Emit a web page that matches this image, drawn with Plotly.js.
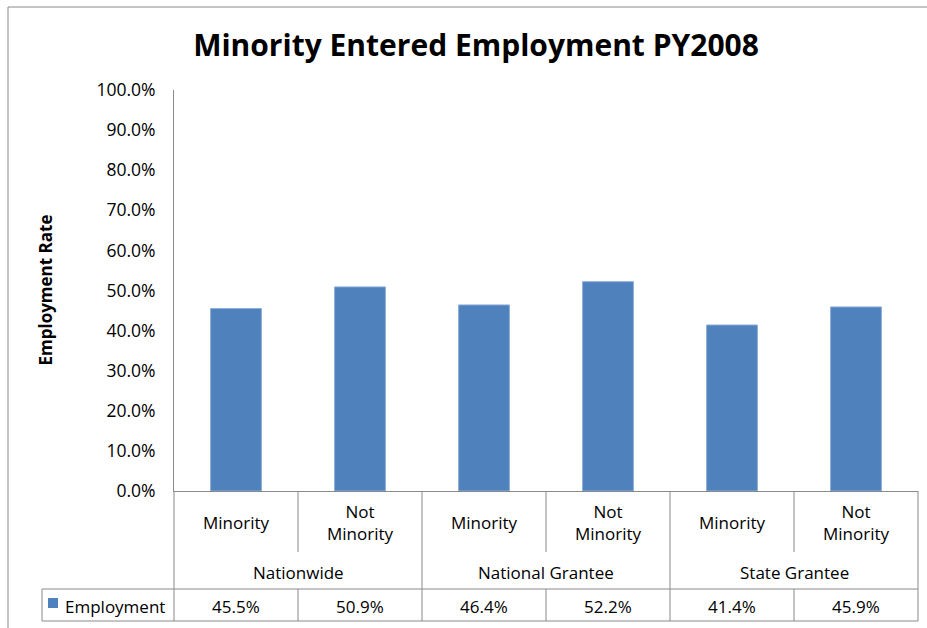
<!DOCTYPE html>
<html>
<head>
<meta charset="utf-8">
<script src="https://cdn.plot.ly/plotly-3.0.1.min.js"></script>
<style>html,body{margin:0;padding:0;background:#fff;}#chart{width:927px;height:628px;}</style>
</head>
<body>
<div id="chart"></div>
<script>
// ---- data ----
const groups = ['Nationwide', 'National Grantee', 'State Grantee'];
const subCategories = ['Minority', 'Not<br>Minority', 'Minority', 'Not<br>Minority', 'Minority', 'Not<br>Minority'];
const employment = [0.455, 0.509, 0.464, 0.522, 0.414, 0.459];
const seriesName = 'Employment';
const chartTitle = 'Minority Entered Employment PY2008';
const yTitle = 'Employment Rate';

// ---- layout helpers ----
const W = 927, H = 628;
const L = 174, R = 9, T = 90, B = 137;
const pw = W - L - R, ph = H - T - B;
const px2x = p => (p - L) / pw;          // pixel -> paper x
const px2y = p => (H - B - p) / ph;      // pixel -> paper y
const FONT = '"Open Sans", Carlito, Calibri, sans-serif';
const lineCol = '#8a8a8a';
const n = employment.length;
const perGroup = n / groups.length;

const idx = employment.map((_, i) => i);
const trace = {
  type: 'bar', x: idx, y: employment, width: 0.41, name: seriesName,
  marker: {color: '#4F81BD', line: {color: '#8CAEDA', width: 1}},
  hoverinfo: 'skip'
};

const shapes = [];
const line = (x0, y0, x1, y1) => shapes.push({type: 'line', xref: 'paper', yref: 'paper', x0, y0, x1, y1, line: {color: lineCol, width: 1}});

const yRow1 = px2y(552), yRow2 = px2y(589), yRow3 = px2y(621), yTop = 0;
const xLeft = px2x(42);
for (let i = 0; i <= n; i++) {
  const xb = i / n;
  if (i % perGroup === 0) line(xb, yTop, xb, yRow2); else line(xb, yTop, xb, yRow1);
  line(xb, yRow2, xb, yRow3);
}
line(xLeft, yRow2, xLeft, yRow3);
line(xLeft, yRow2, 1, yRow2);
line(xLeft, yRow3, 1, yRow3);
// outer frame
line(px2x(8), px2y(7), px2x(8), -0.6);
line(px2x(8), px2y(7), 1.2, px2y(7));
// legend key square
shapes.push({type: 'rect', xref: 'paper', yref: 'paper', x0: px2x(48), x1: px2x(58), y0: px2y(598), y1: px2y(608),
  fillcolor: '#4F81BD', line: {width: 0}});

const annotations = [];
const tf = {family: FONT, size: 17, color: '#000'};
subCategories.forEach((s, i) => annotations.push({xref: 'x', yref: 'paper', x: i, y: px2y(522), text: s, showarrow: false, font: tf, yanchor: 'middle', align: 'center'}));
groups.forEach((g, j) => annotations.push({xref: 'x', yref: 'paper', x: j * perGroup + (perGroup - 1) / 2, y: px2y(572), text: g, showarrow: false, font: tf, yanchor: 'middle'}));
employment.forEach((v, i) => annotations.push({xref: 'x', yref: 'paper', x: i, y: px2y(606), text: (v * 100).toFixed(1) + '%', showarrow: false, font: tf, yanchor: 'middle'}));
annotations.push({xref: 'paper', yref: 'paper', x: px2x(63), y: px2y(606), text: seriesName, showarrow: false, font: tf, xanchor: 'left', yanchor: 'middle'});
annotations.push({xref: 'paper', yref: 'paper', x: px2x(45), y: 0.5, text: '<b>' + yTitle + '</b>', textangle: -90, showarrow: false,
  font: {family: FONT, size: 17, color: '#000'}, xanchor: 'center', yanchor: 'middle'});

const layout = {
  width: W, height: H,
  margin: {l: L, r: R, t: T, b: B},
  paper_bgcolor: '#fff', plot_bgcolor: '#fff',
  showlegend: false,
  title: {text: '<b>' + chartTitle + '</b>', x: 476 / W, xanchor: 'center', xref: 'container', y: 1 - 45 / H, yanchor: 'middle', yref: 'container',
    font: {family: FONT, size: 30, color: '#000'}},
  xaxis: {range: [-0.5, n - 0.5], showticklabels: false, showgrid: false, zeroline: false, showline: true, linecolor: lineCol, linewidth: 1, ticks: '', fixedrange: true},
  yaxis: {range: [0, 1], dtick: 0.1, tickformat: '.1%', showgrid: false, zeroline: false, showline: true, linecolor: lineCol, linewidth: 1, ticks: '',
    ticklabelstandoff: 14, tickfont: {family: FONT, size: 17.5, color: '#000'}, fixedrange: true},
  shapes, annotations
};

Plotly.newPlot('chart', [trace], layout, {staticPlot: true, displayModeBar: false});
</script>
</body>
</html>
